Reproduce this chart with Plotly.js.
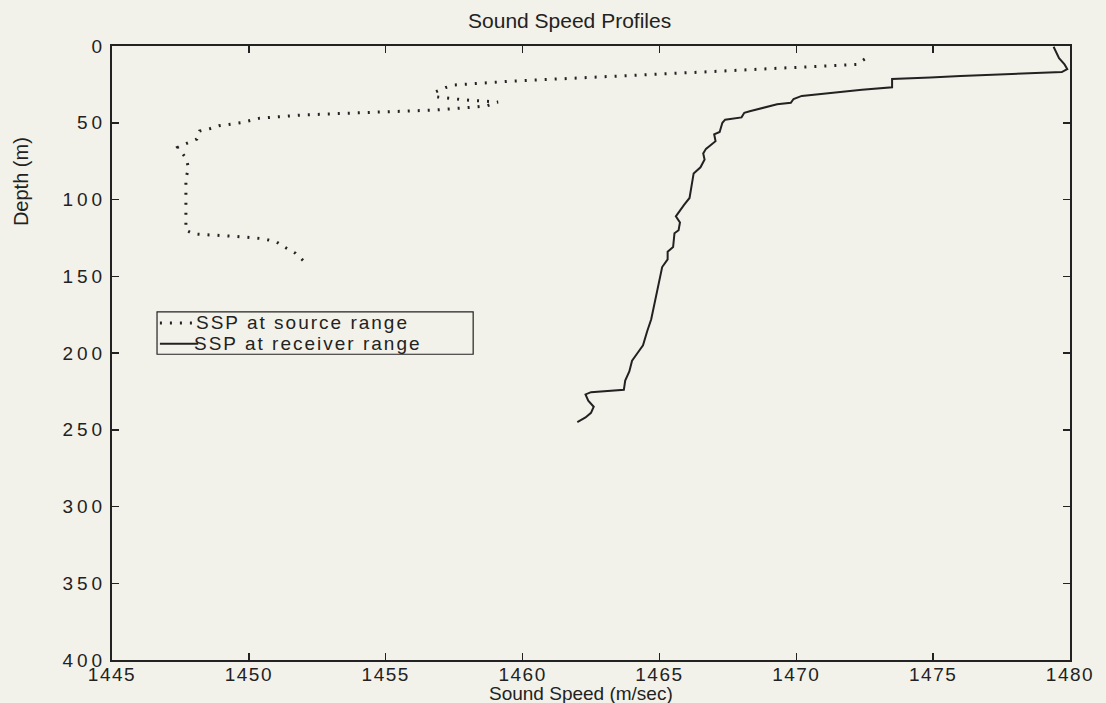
<!DOCTYPE html>
<html>
<head>
<meta charset="utf-8">
<script src="https://cdn.plot.ly/plotly-3.0.1.min.js"></script>
<style>
html,body{margin:0;padding:0;background:#f3f2ea;}
#chart{width:1106px;height:703px;}
#chart .xtick text {letter-spacing:1.5px;}
#chart .ytick text {letter-spacing:4px;}
#chart .annotation-text.lg {letter-spacing:2px;}
</style>
</head>
<body>
<div id="chart"></div>
<script>
// Sound speed profile at source range (m/sec) and depth (m)
const sourceSpeed = [1472.5, 1472.2, 1466.5, 1462.8, 1459.5, 1457.5, 1457.2, 1456.8, 1456.8, 1457.8, 1459.1, 1458.7, 1458.3, 1456.8, 1455.7, 1454.9, 1453.6, 1451.9, 1450.4, 1449.7, 1448.9, 1448.6, 1448.2, 1448.1, 1447.8, 1447.4, 1447.7, 1447.8, 1447.7, 1447.7, 1447.7, 1447.7, 1448.0, 1449.5, 1450.5, 1451.0, 1451.3, 1451.7, 1452.0];
const sourceDepth = [8.5, 12, 17, 20, 23, 25.4, 27, 30, 33, 35, 36.5, 39, 39.7, 41.7, 42.3, 43, 43.8, 45, 47, 50, 52, 53.7, 55.4, 60.6, 62.7, 66, 73, 79.5, 86, 99.6, 110, 120, 122.5, 124, 125.5, 127.5, 131, 135, 140];

// Sound speed profile at receiver range
const receiverSpeed = [1479.4, 1479.5, 1479.6, 1479.8, 1479.9, 1479.7, 1478.4, 1476.0, 1474.9, 1473.5, 1473.5, 1472.4, 1470.2, 1469.9, 1469.8, 1469.3, 1468.3, 1468.1, 1468.0, 1467.4, 1467.3, 1467.2, 1467.0, 1467.05, 1466.7, 1466.6, 1466.65, 1466.5, 1466.25, 1466.2, 1466.1, 1465.9, 1465.6, 1465.75, 1465.7, 1465.55, 1465.5, 1465.3, 1465.3, 1465.1, 1465.0, 1464.9, 1464.8, 1464.7, 1464.55, 1464.4, 1464.2, 1464.0, 1463.9, 1463.75, 1463.7, 1462.5, 1462.3, 1462.4, 1462.6, 1462.5, 1462.3, 1462.0];
const receiverDepth = [0.5, 4, 8, 12, 15, 17, 17.8, 19.5, 20.5, 21.5, 26.9, 28.5, 32.5, 34.5, 37, 38, 42.5, 43.5, 46.5, 48, 50, 56, 57.5, 62, 67, 70, 74, 79, 83, 89, 99, 103.5, 111, 115, 120, 122, 131, 134, 139, 144, 152, 160, 170, 178, 186, 195, 200, 205, 212, 218, 224, 225.5, 227, 231, 235, 239, 242, 245];

const xTicks = [1445, 1450, 1455, 1460, 1465, 1470, 1475, 1480];
const yTicks = [0, 50, 100, 150, 200, 250, 300, 350, 400];
const seriesNames = ['SSP at source range', 'SSP at receiver range'];

const ink = '#222222';
const bg = '#f3f2ea';
const dotDash = '2px,8px';
const font = 'Liberation Sans, Arial, Helvetica, sans-serif';

const traces = [
  {x: sourceSpeed, y: sourceDepth, mode: 'lines', name: seriesNames[0], showlegend: false,
   line: {color: ink, width: 3, dash: dotDash}},
  {x: receiverSpeed, y: receiverDepth, mode: 'lines', name: seriesNames[1], showlegend: false,
   line: {color: ink, width: 2}}
];

const axisCommon = {
  showgrid: false, zeroline: false, showline: true, mirror: 'ticks',
  linecolor: ink, linewidth: 2, ticks: 'inside', ticklen: 7, tickwidth: 1.5, tickcolor: ink,
  tickfont: {family: font, size: 19, color: ink}
};

// legend box (paper coordinates)
const lg = {x0: 0.047, x1: 0.377, y0: 0.498, y1: 0.567, sx0: 0.050, sx1: 0.090, tx: 0.106, r1: 0.549, r2: 0.515};

const layout = {
  width: 1106, height: 703,
  paper_bgcolor: bg, plot_bgcolor: bg,
  margin: {l: 112, r: 36, t: 46, b: 43},
  title: {text: 'Sound Speed Profiles', x: 0.515, xanchor: 'center', y: 0.97, yanchor: 'middle',
          font: {family: font, size: 21, color: ink}},
  xaxis: Object.assign({}, axisCommon, {
    range: [1445, 1480], tickvals: xTicks, ticktext: xTicks.map(String), ticklabelstandoff: -4
  }),
  yaxis: Object.assign({}, axisCommon, {
    range: [400, 0], tickvals: yTicks, ticktext: yTicks.map(String)
  }),
  shapes: [
    {type: 'rect', xref: 'paper', yref: 'paper', x0: lg.x0, x1: lg.x1, y0: lg.y0, y1: lg.y1,
     line: {color: ink, width: 1.2}, fillcolor: 'rgba(0,0,0,0)'},
    {type: 'line', xref: 'paper', yref: 'paper', x0: lg.sx0, x1: lg.sx1, y0: lg.r1, y1: lg.r1,
     line: {color: ink, width: 3, dash: dotDash}},
    {type: 'line', xref: 'paper', yref: 'paper', x0: lg.sx0, x1: lg.sx1, y0: lg.r2, y1: lg.r2,
     line: {color: ink, width: 2}}
  ],
  annotations: [
    {text: 'Depth (m)', xref: 'paper', yref: 'paper', x: -0.095, y: 0.78,
     xanchor: 'center', yanchor: 'middle', textangle: -90, showarrow: false,
     font: {family: font, size: 20, color: ink}},
    {text: 'Sound Speed (m/sec)', xref: 'paper', yref: 'paper', x: 0.49, y: 0, yshift: -22,
     xanchor: 'center', yanchor: 'top', showarrow: false, borderpad: 0,
     font: {family: font, size: 19, color: ink}},
    {text: seriesNames[0], xref: 'paper', yref: 'paper', x: lg.tx, y: lg.r1, xanchor: 'left', yanchor: 'middle',
     showarrow: false, font: {family: font, size: 19, color: ink}, borderpad: 0},
    {text: seriesNames[1], xref: 'paper', yref: 'paper', x: lg.tx, y: lg.r2, xanchor: 'left', yanchor: 'middle',
     showarrow: false, font: {family: font, size: 19, color: ink}, borderpad: 0}
  ],
  showlegend: false
};

Plotly.newPlot('chart', traces, layout, {staticPlot: true, displayModeBar: false}).then(function(){
  document.querySelectorAll('#chart .annotation-text').forEach(function(t){
    if (t.textContent.indexOf('SSP') === 0) t.classList.add('lg');
  });
});
</script>
</body>
</html>
